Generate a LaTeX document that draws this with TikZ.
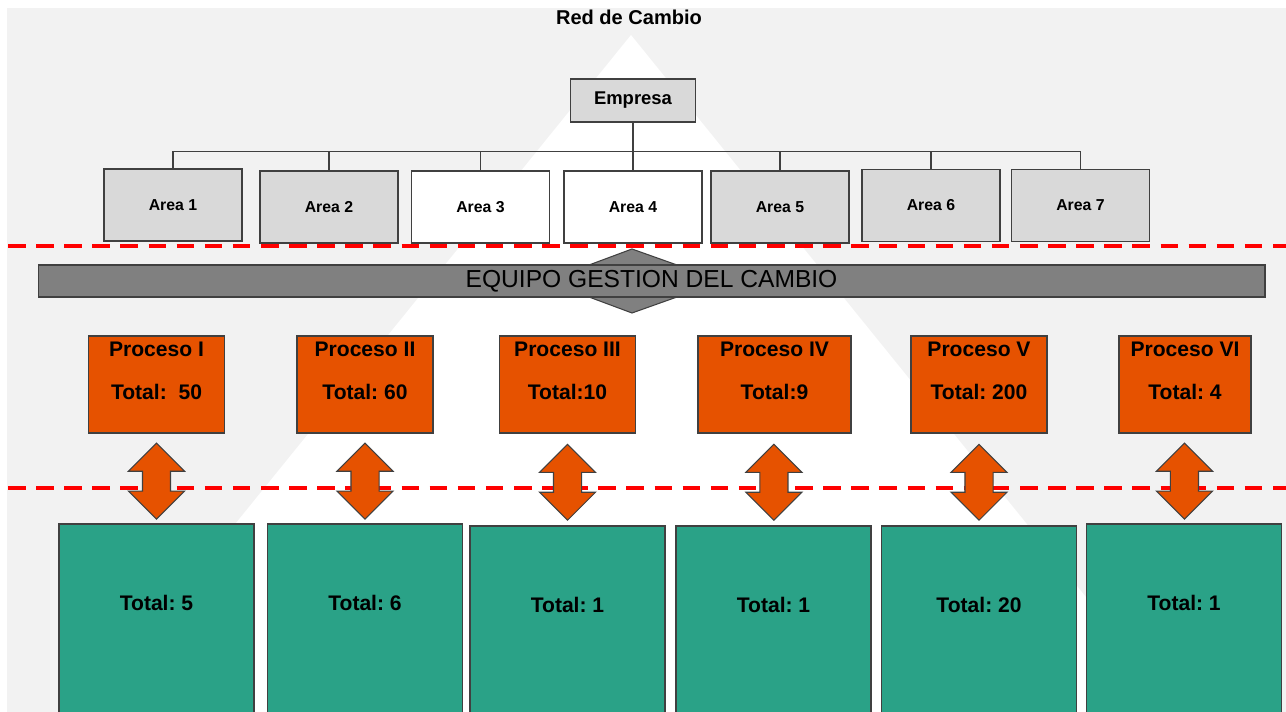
\documentclass[tikz,border=0pt]{standalone}
\usepackage{fontspec}
\setmainfont{Liberation Sans}
\usetikzlibrary{shapes.arrows,calc}
\frenchspacing

\definecolor{fondo}{HTML}{F2F2F2}
\definecolor{gris}{HTML}{D9D9D9}
\definecolor{borde}{HTML}{404040}
\definecolor{banda}{HTML}{808080}
\definecolor{naranja}{HTML}{E65200}
\definecolor{verde}{HTML}{2AA287}
\definecolor{rojo}{HTML}{FF0000}

\begin{document}
\begin{tikzpicture}[
    x=0.02cm, y=-0.02cm,
    jefe/.style={
        rectangle,
        draw=borde,
        line width=0.6pt,
        fill=gris,
        minimum width=2.5cm,
        minimum height=0.86cm,
        font=\fontsize{10.5}{12}\selectfont\bfseries
    },
    area/.style={
        rectangle,
        draw=borde,
        line width=0.6pt,
        fill=#1,
        minimum width=2.76cm,
        minimum height=1.44cm,
        font=\fontsize{9}{11}\selectfont\bfseries
    },
    area/.default=gris,
    rama/.style={draw=borde, line width=0.6pt},
    corte/.style={draw=rojo, line width=2.2pt, dash pattern=on 10pt off 6pt},
    equipo/.style={
        rectangle,
        draw=borde,
        line width=0.7pt,
        fill=banda,
        minimum width=24.54cm,
        minimum height=0.64cm,
        inner sep=0pt,
        font=\fontsize{14}{16}\selectfont
    },
    proc/.style={
        rectangle,
        draw=borde,
        line width=0.7pt,
        fill=naranja,
        minimum width=#1,
        minimum height=1.94cm
    },
    proc/.default=2.72cm,
    ptxt/.style={anchor=base, inner sep=0pt, font=\fontsize{12}{14}\selectfont\bfseries},
    result/.style={
        rectangle,
        draw=borde,
        line width=0.7pt,
        fill=verde,
        minimum width=3.9cm,
        minimum height=3.88cm
    },
    flecha/.style={
        double arrow,
        draw=borde,
        line width=0.6pt,
        fill=naranja,
        rotate=90,
        double arrow tip angle=90,
        double arrow head extend=0.28cm,
        inner xsep=0pt,
        inner ysep=0.27cm,
        minimum height=1.52cm,
        minimum width=1.1cm
    }
]

\useasboundingbox (0,0) rectangle (1286,712);
\clip (0,0) rectangle (1286,712);

% fondo y triangulo
\fill[white] (0,0) rectangle (1286,712);
\fill[fondo] (7,8) rectangle (1286,712);
\fill[white] (631,35) -- (83,712) -- (1179,712) -- cycle;

% titulo
\node[anchor=base, font=\fontsize{11.4}{13}\selectfont\bfseries] (titulo) at (629,25) {Red de Cambio};

% organigrama
\node[jefe] (emp) at (633,100.5) {Empresa};

\node[area] (a1) at (173,205) {Area 1};
\node[area] (a2) at (329,207) {Area 2};
\node[area=white] (a3) at (480.5,207) {Area 3};
\node[area=white] (a4) at (633,207) {Area 4};
\node[area] (a5) at (780,207) {Area 5};
\node[area] (a6) at (931,205.5) {Area 6};
\node[area] (a7) at (1080.5,205.5) {Area 7};

\draw[rama] (emp.south) -- ++(0,29) -| (a1.north);
\draw[rama] (emp.south) -- ++(0,29) -| (a2.north);
\draw[rama] (emp.south) -- ++(0,29) -| (a3.north);
\draw[rama] (emp.south) -- (a4.north);
\draw[rama] (emp.south) -- ++(0,29) -| (a5.north);
\draw[rama] (emp.south) -- ++(0,29) -| (a6.north);
\draw[rama] (emp.south) -- ++(0,29) -| (a7.north);

% lineas de corte
\draw[corte] (8,246) -- (1286,246);
\draw[corte] (8,488) -- (1286,488);

% equipo gestion del cambio
\draw[borde, fill=banda, line width=0.6pt] (589,265) -- (632,249) -- (677,265) -- (677,297) -- (632,313) -- (589,297) -- cycle;
\node[equipo] (eq) at (651.5,281) {EQUIPO GESTION DEL CAMBIO};

% procesos
\node[proc] (p1) at (156.5,384.5) {};
\node[proc] (p2) at (365,384.5) {};
\node[proc] (p3) at (567.5,384.5) {};
\node[proc=3.06cm] (p4) at (774.5,384.5) {};
\node[proc] (p5) at (979,384.5) {};
\node[proc=2.64cm] (p6) at (1185,384.5) {};

\node[ptxt] (p1a) at ($(p1.north)+(0,21)$) {Proceso I};
\node[ptxt] (p2a) at ($(p2.north)+(0,21)$) {Proceso II};
\node[ptxt] (p3a) at ($(p3.north)+(0,21)$) {Proceso III};
\node[ptxt] (p4a) at ($(p4.north)+(0,21)$) {Proceso IV};
\node[ptxt] (p5a) at ($(p5.north)+(0,21)$) {Proceso V};
\node[ptxt] (p6a) at ($(p6.north)+(0,21)$) {Proceso VI};

\node[ptxt] (p1b) at ($(p1.north)+(0,64)$) {Total:~~50};
\node[ptxt] (p2b) at ($(p2.north)+(0,64)$) {Total: 60};
\node[ptxt] (p3b) at ($(p3.north)+(0,64)$) {Total:10};
\node[ptxt] (p4b) at ($(p4.north)+(0,64)$) {Total:9};
\node[ptxt] (p5b) at ($(p5.north)+(0,64)$) {Total: 200};
\node[ptxt] (p6b) at ($(p6.north)+(0,64)$) {Total: 4};

% resultados
\node[result] (g1) at (156.5,621) {};
\node[result] (g2) at (365,621) {};
\node[result] (g3) at (567.5,623) {};
\node[result] (g4) at (773.5,623) {};
\node[result] (g5) at (979,623) {};
\node[result] (g6) at (1184,621) {};

\node[ptxt] (g1t) at ($(g1.north)+(0,87)$) {Total: 5};
\node[ptxt] (g2t) at ($(g2.north)+(0,87)$) {Total: 6};
\node[ptxt] (g3t) at ($(g3.north)+(0,87)$) {Total: 1};
\node[ptxt] (g4t) at ($(g4.north)+(0,87)$) {Total: 1};
\node[ptxt] (g5t) at ($(g5.north)+(0,87)$) {Total: 20};
\node[ptxt] (g6t) at ($(g6.north)+(0,87)$) {Total: 1};

% flechas dobles
\node[flecha] (f1) at ($(p1.south)!0.53!(g1.north)$) {};
\node[flecha] (f2) at ($(p2.south)!0.53!(g2.north)$) {};
\node[flecha] (f3) at ($(p3.south)!0.53!(g3.north)$) {};
\node[flecha] (f4) at ($(p4.south)!0.53!(g4.north)$) {};
\node[flecha] (f5) at ($(p5.south)!0.53!(g5.north)$) {};
\node[flecha] (f6) at ($(p6.south)!0.53!(g6.north)$) {};

\end{tikzpicture}
\end{document}
